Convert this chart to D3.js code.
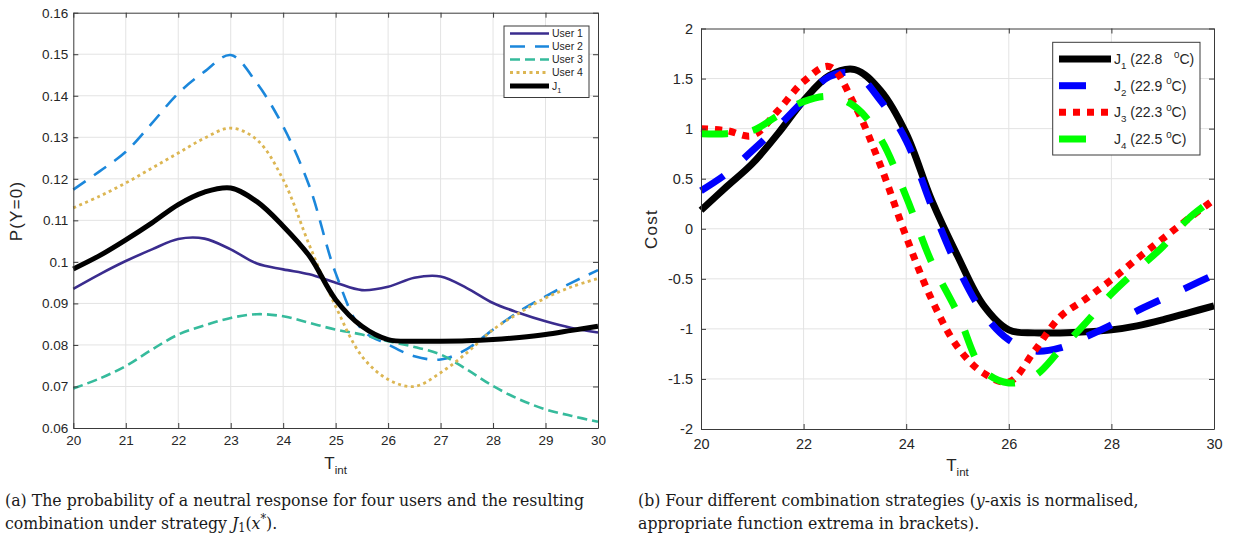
<!DOCTYPE html>
<html>
<head>
<meta charset="utf-8">
<script src="https://cdn.jsdelivr.net/npm/d3@7"></script>
<style>
  body { margin: 0; background: #fff; }
  svg text { font-family: "Liberation Sans", Arial, sans-serif; fill: #262626; }
  .caption { font-family: "DejaVu Serif Condensed", "DejaVu Serif", serif; fill: #1a1a1a; }
  .pre { white-space: pre; }
</style>
</head>
<body>
<svg id="chart" width="1234" height="535"></svg>
<script>
// temperature samples (T_int) shared by every series
const tempGrid = [20, 20.5, 21, 21.5, 22, 22.5, 23, 23.5, 24, 24.5, 25,
                  25.5, 26, 26.5, 27, 27.5, 28, 28.5, 29, 29.5, 30];

// (a) P(Y=0) per user and the J1 combination
const user1 = [0.0935, 0.097, 0.1002, 0.103, 0.1055, 0.1056, 0.103, 0.0996, 0.0982, 0.097, 0.095,
               0.0932, 0.094, 0.0962, 0.0965, 0.0937, 0.0901, 0.0877, 0.0857, 0.0841, 0.083];
const user2 = [0.1174, 0.1218, 0.1265, 0.1334, 0.1406, 0.1458, 0.1498, 0.143, 0.1326, 0.1182, 0.0973,
               0.0837, 0.0801, 0.0773, 0.0765, 0.079, 0.0837, 0.0881, 0.0917, 0.095, 0.098];
const user3 = [0.0695, 0.0719, 0.0749, 0.0789, 0.0825, 0.0847, 0.0865, 0.0874, 0.0869, 0.0853, 0.0837,
               0.0825, 0.0809, 0.0795, 0.0777, 0.0741, 0.0701, 0.0669, 0.0645, 0.0629, 0.0615];
const user4 = [0.113, 0.1158, 0.119, 0.1226, 0.1262, 0.1298, 0.1322, 0.1294, 0.1198, 0.104, 0.0893,
               0.0773, 0.0717, 0.070, 0.0733, 0.0781, 0.0837, 0.0877, 0.0913, 0.094, 0.096];
const j1Prob = [0.0983, 0.1015, 0.1053, 0.1094, 0.1138, 0.1168, 0.1178, 0.1145, 0.1086, 0.1014, 0.0909,
                0.0845, 0.0813, 0.0809, 0.0809, 0.081, 0.0813, 0.0818, 0.0825, 0.0835, 0.0845];

// (b) normalised cost of the four strategies
const costJ1 = [0.185, 0.42, 0.65, 0.95, 1.28, 1.53, 1.59, 1.38, 0.95, 0.28, -0.27,
                -0.76, -1.01, -1.04, -1.04, -1.03, -1.01, -0.97, -0.91, -0.84, -0.77];
const costJ2 = [0.38, 0.55, 0.78, 1.02, 1.28, 1.52, 1.55, 1.28, 0.88, 0.22, -0.38,
                -0.84, -1.11, -1.22, -1.19, -1.08, -0.96, -0.82, -0.70, -0.58, -0.46];
const costJ3 = [1.0, 0.98, 0.93, 1.18, 1.47, 1.62, 1.23, 0.63, -0.08, -0.71, -1.18,
                -1.44, -1.53, -1.22, -0.88, -0.70, -0.51, -0.30, -0.10, 0.10, 0.29];
const costJ4 = [0.95, 0.95, 0.98, 1.13, 1.27, 1.32, 1.22, 0.90, 0.32, -0.34, -0.84,
                -1.41, -1.54, -1.47, -1.21, -0.94, -0.65, -0.41, -0.18, 0.10, 0.30];

const userLabels = ["User 1", "User 2", "User 3", "User 4"];
const strategyExtrema = ["22.8", "22.9", "22.3", "22.5"];

const probTicksX = d3.range(20, 31, 1);
const probTicksY = [0.06, 0.07, 0.08, 0.09, 0.1, 0.11, 0.12, 0.13, 0.14, 0.15, 0.16];
const costTicksX = [20, 22, 24, 26, 28, 30];
const costTicksY = [-2, -1.5, -1, -0.5, 0, 0.5, 1, 1.5, 2];

const svg = d3.select("#chart");
svg.append("rect").attr("width", 1234).attr("height", 535).attr("fill", "#fff");

class LinePanel {
  constructor(_config, _series) {
    this.config = _config;
    this.series = _series;
    this.initVis();
  }

  initVis() {
    const vis = this;
    const c = vis.config;

    vis.x = d3.scaleLinear().domain(c.xDomain).range([c.left, c.right]);
    vis.y = d3.scaleLinear().domain(c.yDomain).range([c.bottom, c.top]);
    vis.g = svg.append("g");

    // grid
    vis.g.append("g").selectAll("line.gx")
      .data(c.xTicks.slice(1, -1))
      .join("line")
      .attr("x1", d => vis.x(d)).attr("x2", d => vis.x(d))
      .attr("y1", c.top).attr("y2", c.bottom)
      .attr("stroke", "#e3e3e3").attr("stroke-width", 1);
    vis.g.append("g").selectAll("line.gy")
      .data(c.yTicks.slice(1, -1))
      .join("line")
      .attr("y1", d => vis.y(d)).attr("y2", d => vis.y(d))
      .attr("x1", c.left).attr("x2", c.right)
      .attr("stroke", "#e3e3e3").attr("stroke-width", 1);

    // lines
    const line = d3.line()
      .x((d, i) => vis.x(tempGrid[i]))
      .y(d => vis.y(d))
      .curve(d3.curveCatmullRom.alpha(0.5));

    vis.g.selectAll("path.series")
      .data(vis.series)
      .join("path")
      .attr("class", "series")
      .attr("d", d => line(d.values))
      .attr("fill", "none")
      .attr("stroke", d => d.color)
      .attr("stroke-width", d => d.width)
      .attr("stroke-dasharray", d => d.dash)
      .attr("stroke-linecap", "butt")
      .attr("stroke-linejoin", "round");

    // axes: box with inward ticks on all four sides
    const fmt = c.tickFormat;
    const axes = [
      { ax: d3.axisBottom(vis.x).tickValues(c.xTicks).tickFormat(fmt).tickPadding(c.xPad), t: `translate(0,${c.bottom})` },
      { ax: d3.axisTop(vis.x).tickValues(c.xTicks).tickFormat(""), t: `translate(0,${c.top})` },
      { ax: d3.axisLeft(vis.y).tickValues(c.yTicks).tickFormat(fmt).tickPadding(c.yPad), t: `translate(${c.left},0)` },
      { ax: d3.axisRight(vis.y).tickValues(c.yTicks).tickFormat(""), t: `translate(${c.right},0)` }
    ];
    axes.forEach(a => {
      const ag = vis.g.append("g")
        .attr("transform", a.t)
        .call(a.ax.tickSize(-5).tickSizeOuter(0));
      ag.select(".domain").attr("stroke", "#3a3a3a");
      ag.selectAll(".tick line").attr("stroke", "#3a3a3a");
      ag.selectAll(".tick text")
        .attr("font-family", "Liberation Sans, Arial, sans-serif")
        .attr("font-size", c.tickFont).attr("fill", "#262626");
    });

    // x label T_int
    const xl = vis.g.append("text")
      .attr("x", (c.left + c.right) / 2).attr("y", c.xLabelY)
      .attr("text-anchor", "middle").attr("font-size", c.labelFont);
    xl.append("tspan").text("T");
    xl.append("tspan").attr("dy", 5).attr("font-size", c.labelFont * 0.68).text("int");

    // y label
    vis.g.append("text")
      .attr("transform", `translate(${c.yLabelX},${c.yLabelY}) rotate(-90)`)
      .attr("text-anchor", "middle").attr("font-size", c.yLabelFont)
      .attr("letter-spacing", 1.2)
      .text(c.yLabel);

    vis.drawLegend();
  }

  drawLegend() {
    const vis = this;
    const L = vis.config.legend;
    const lg = vis.g.append("g");
    lg.append("rect")
      .attr("x", L.x0).attr("y", L.y0)
      .attr("width", L.x1 - L.x0).attr("height", L.y1 - L.y0)
      .attr("fill", "#fff").attr("stroke", "#3a3a3a").attr("stroke-width", 1);

    vis.series.forEach((s, i) => {
      const yy = L.rowY[i];
      lg.append("line")
        .attr("x1", L.sx0).attr("x2", L.sx1)
        .attr("y1", yy).attr("y2", yy)
        .attr("stroke", s.color).attr("stroke-width", s.width)
        .attr("stroke-dasharray", s.dash);
      const t = lg.append("text")
        .attr("class", "pre")
        .attr("x", L.tx).attr("y", yy + L.font * 0.36)
        .attr("font-size", L.font);
      s.label.forEach(p => {
        const ts = t.append("tspan").text(p.t);
        if (p.sub) ts.attr("dy", L.font * 0.35).attr("font-size", L.font * 0.7);
        if (p.sup) ts.attr("dy", -L.font * 0.45).attr("font-size", L.font * 0.7);
        if (p.back) ts.attr("dy", p.back * L.font);
      });
    });
  }
}

new LinePanel({
  left: 73.3, right: 598, top: 12.7, bottom: 428,
  xDomain: [20, 30], yDomain: [0.06, 0.16],
  xTicks: probTicksX, yTicks: probTicksY,
  tickFormat: d => d3.format("~g")(d),
  tickFont: 13.5, xPad: 7, yPad: 5,
  labelFont: 17, xLabelY: 469, yLabel: "P(Y=0)", yLabelFont: 17, yLabelX: 22, yLabelY: 211,
  legend: {
    x0: 504, x1: 589, y0: 26, y1: 97.5,
    rowY: [33.5, 46.5, 59.5, 72.5, 86],
    sx0: 510, sx1: 549, tx: 552, font: 10.5
  }
}, [
  { values: user1, color: "#3a2c8e", width: 2.6, dash: null, label: [{ t: userLabels[0] }] },
  { values: user2, color: "#1b87db", width: 2.6, dash: "15,10", label: [{ t: userLabels[1] }] },
  { values: user3, color: "#36bb9c", width: 2.6, dash: "10,5", label: [{ t: userLabels[2] }] },
  { values: user4, color: "#dcb653", width: 2.8, dash: "3,3.5", label: [{ t: userLabels[3] }] },
  { values: j1Prob, color: "#000", width: 5, dash: null, label: [{ t: "J" }, { t: "1", sub: true }] }
]);

const strategyColors = ["#000000", "#0000ff", "#ff0000", "#00ff00"];
const strategyDash = [null, "27,27", "7,7", "27,25"];
const costSeries = [costJ1, costJ2, costJ3, costJ4].map((v, i) => ({
  values: v,
  color: strategyColors[i],
  width: 7,
  dash: strategyDash[i],
  label: [
    { t: "J" }, { t: String(i + 1), sub: true },
    { t: (i === 0 ? " (" + strategyExtrema[i] + "   " : " (" + strategyExtrema[i] + " "), back: -0.35 },
    { t: "0", sup: true },
    { t: "C)", back: 0.45 }
  ]
}));

new LinePanel({
  left: 701, right: 1214, top: 28.5, bottom: 429,
  xDomain: [20, 30], yDomain: [-2, 2],
  xTicks: costTicksX, yTicks: costTicksY,
  tickFormat: d => d3.format("~g")(d).replace("−", "-"),
  tickFont: 14.5, xPad: 10, yPad: 8,
  labelFont: 17, xLabelY: 471, yLabel: "Cost", yLabelFont: 17, yLabelX: 657, yLabelY: 229,
  legend: {
    x0: 1052.7, x1: 1200, y0: 42.3, y1: 155,
    rowY: [59, 85.7, 112.3, 139],
    sx0: 1059, sx1: 1111, tx: 1114, font: 14
  }
}, costSeries);

// captions
const capA = svg.append("text").attr("class", "caption").attr("font-size", 17.5);
capA.append("tspan").attr("x", 5).attr("y", 506)
  .text("(a) The probability of a neutral response for four users and the resulting");
const capA2 = capA.append("tspan").attr("x", 5).attr("y", 529);
capA2.append("tspan").text("combination under strategy ");
capA2.append("tspan").attr("font-style", "italic").text("J");
capA2.append("tspan").attr("dy", 3).attr("font-size", 12.5).text("1");
capA2.append("tspan").attr("dy", -3).text("(");
capA2.append("tspan").attr("font-style", "italic").text("x");
capA2.append("tspan").attr("dy", -6).attr("font-size", 12.5).text("*");
capA2.append("tspan").attr("dy", 6).text(").");

const capB = svg.append("text").attr("class", "caption").attr("font-size", 17.5);
const capB1 = capB.append("tspan").attr("x", 638).attr("y", 506);
capB1.append("tspan").text("(b) Four different combination strategies (");
capB1.append("tspan").attr("font-style", "italic").text("y");
capB1.append("tspan").text("-axis is normalised,");
capB.append("tspan").attr("x", 638).attr("y", 529)
  .text("appropriate function extrema in brackets).");
</script>
</body>
</html>
